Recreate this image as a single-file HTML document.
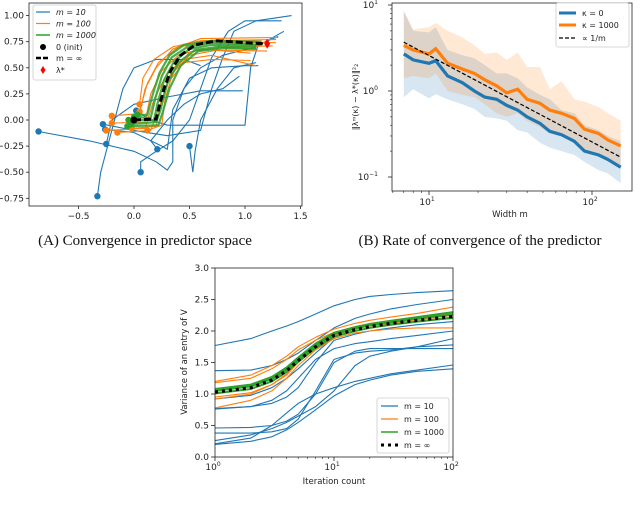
<!DOCTYPE html>
<html><head><meta charset="utf-8">
<style>
html,body{margin:0;padding:0;background:#fff;width:640px;height:505px;overflow:hidden}
svg{position:absolute;left:0;top:0}
text{font-family:"DejaVu Sans","Liberation Sans",sans-serif;fill:#222}
.cap{font-family:"Liberation Serif",serif;font-size:15px;fill:#111}
</style></head>
<body>
<svg id="fig" width="640" height="505" viewBox="0 0 640 505" xmlns="http://www.w3.org/2000/svg"></svg>
<script>
// ===== Chart A data =====
const aInfPath = [[0,0],[0.1,0.005],[0.2,0.01],[0.22,0.1],[0.27,0.3],[0.33,0.47],[0.42,0.62],[0.55,0.72],[0.75,0.76],[1.0,0.74],[1.2,0.73]];
const aGreenPaths = [
 [[-0.05,0.0],[0.18,0.0],[0.21,0.15],[0.27,0.38],[0.36,0.56],[0.5,0.68],[0.7,0.72],[1.1,0.71]],
 [[0.0,0.03],[0.15,0.02],[0.19,0.2],[0.25,0.42],[0.34,0.6],[0.48,0.7],[0.7,0.74],[1.15,0.72]],
 [[-0.03,-0.04],[0.2,-0.02],[0.24,0.1],[0.3,0.35],[0.4,0.55],[0.55,0.67],[0.75,0.7],[1.1,0.69]],
 [[0.03,0.05],[0.12,0.05],[0.17,0.25],[0.23,0.45],[0.32,0.62],[0.45,0.72],[0.7,0.76],[1.15,0.75]],
 [[-0.06,-0.06],[0.22,-0.05],[0.26,0.08],[0.32,0.3],[0.42,0.52],[0.58,0.66],[0.8,0.69],[1.1,0.68]]
];
const aOrangePaths = [
 [[-0.2,0.04],[0.05,0.06],[0.1,0.3],[0.2,0.5],[0.35,0.68],[0.6,0.78],[1.3,0.79]],
 [[-0.2,-0.03],[0.1,-0.02],[0.15,0.25],[0.25,0.47],[0.4,0.62],[0.6,0.68],[1.05,0.64]],
 [[-0.25,-0.1],[0.1,-0.08],[0.18,0.2],[0.3,0.45],[0.45,0.58],[0.7,0.62],[1.1,0.52]],
 [[-0.15,-0.12],[0.15,-0.1],[0.22,0.1],[0.3,0.35],[0.45,0.55],[0.7,0.58],[1.05,0.57]],
 [[0.05,0.15],[0.08,0.4],[0.18,0.58],[0.35,0.7],[0.6,0.76],[1.28,0.77]],
 [[-0.02,-0.08],[0.2,-0.06],[0.24,0.15],[0.32,0.42],[0.5,0.65],[0.8,0.7],[1.25,0.71]],
 [[0.12,-0.1],[0.25,-0.05],[0.28,0.2],[0.35,0.45],[0.5,0.62],[0.75,0.67],[1.2,0.66]],
 [[0.05,0.08],[0.12,0.35],[0.22,0.55],[0.4,0.7],[0.7,0.75],[1.28,0.74]]
];
const aBluePaths = [
 [[-0.86,-0.11],[-0.4,-0.2],[0.0,-0.3],[0.2,-0.4],[0.3,-0.48],[0.35,-0.4],[0.35,0.0],[0.45,0.3],[0.6,0.5],[0.8,0.62],[1.1,0.7],[1.35,0.85]],
 [[-0.33,-0.73],[-0.3,-0.5],[-0.2,-0.1],[-0.1,0.3],[0.0,0.5],[0.2,0.58],[0.45,0.58],[0.6,0.52]],
 [[-0.28,-0.04],[0.0,-0.1],[0.3,-0.15],[0.6,-0.1],[0.7,0.3],[0.8,0.6],[0.9,0.85],[1.1,0.95],[1.42,1.0]],
 [[-0.25,-0.23],[-0.2,0.0],[0.0,0.15],[0.3,0.22],[0.6,0.28],[0.98,0.28]],
 [[0.06,-0.5],[0.06,-0.4],[0.2,-0.3],[0.35,-0.2],[0.5,0.0],[0.6,0.3],[0.7,0.6],[0.85,0.85],[1.0,0.95],[1.33,0.95]],
 [[0.21,-0.28],[0.15,-0.2],[0.3,0.0],[0.45,0.15],[0.6,0.25],[0.8,0.3],[0.95,0.42]],
 [[0.5,-0.25],[0.53,-0.5],[0.55,-0.3],[0.6,0.0],[0.75,0.3],[0.9,0.5],[1.1,0.55]],
 [[0.02,0.09],[0.15,0.0],[0.3,-0.05],[0.6,-0.05],[1.0,-0.05],[1.05,0.5],[1.12,0.72],[1.3,0.8]],
 [[-0.26,-0.09],[0.0,-0.12],[0.25,-0.25],[0.3,-0.28],[0.35,0.1],[0.5,0.4],[0.7,0.5],[1.0,0.52],[1.12,0.52]]
];
const aXTicks = [-0.5,0.0,0.5,1.0,1.5];
const aYTicks = [-0.75,-0.5,-0.25,0.0,0.25,0.5,0.75,1.0];

// ===== Chart B data =====
const bWidths = [7,8,10,11,13,16,19,22,26,30,35,40,48,55,65,78,90,110,125,150];
const bKappa0 = [2.7,2.3,2.1,2.25,1.5,1.25,1.0,0.85,0.8,0.68,0.6,0.5,0.42,0.34,0.31,0.26,0.2,0.18,0.16,0.13];
const bKappa1000 = [3.4,3.0,2.7,3.1,2.1,1.8,1.6,1.35,1.15,0.95,1.05,0.8,0.72,0.6,0.55,0.48,0.36,0.32,0.27,0.23];
const bKappa0Lo = [0.85,1.05,0.82,0.92,0.8,0.7,0.62,0.5,0.48,0.45,0.35,0.33,0.25,0.22,0.2,0.18,0.15,0.12,0.11,0.085];
const bKappa0Hi = [8.5,5.0,4.8,5.5,3.0,2.6,2.4,2.0,1.6,1.6,1.4,1.1,0.9,0.8,0.6,0.55,0.4,0.35,0.3,0.26];
const bKappa1000Lo = [1.4,1.5,1.4,1.6,1.0,0.9,0.85,0.7,0.55,0.5,0.55,0.45,0.38,0.32,0.3,0.25,0.2,0.18,0.16,0.13];
const bKappa1000Hi = [8.5,5.2,5.5,6.2,5.0,4.2,3.4,2.7,2.8,2.3,2.8,1.9,1.9,1.05,1.3,0.8,0.75,0.65,0.55,0.45];
const bRefEnds = [7,150];
const bRefVals = [3.7,0.17];

// ===== Chart C data =====
const cIters = [1,2,3,4,5,7,10,15,20,30,50,100];
const cBlue = [
 [1.77,1.88,2.0,2.08,2.15,2.27,2.40,2.50,2.55,2.58,2.61,2.64],
 [1.37,1.38,1.45,1.55,1.65,1.85,2.05,2.2,2.27,2.35,2.42,2.50],
 [0.77,0.80,0.85,0.95,1.1,1.5,1.85,1.95,2.0,2.05,2.1,2.15],
 [0.76,0.8,0.9,1.05,1.25,1.55,1.72,1.8,1.83,1.88,1.93,2.0],
 [0.46,0.47,0.50,0.57,0.68,1.0,1.5,1.68,1.72,1.72,1.72,1.72],
 [0.38,0.38,0.40,0.45,0.60,1.05,1.55,1.65,1.68,1.70,1.75,1.78],
 [0.26,0.35,0.45,0.55,0.65,0.80,1.05,1.45,1.60,1.68,1.75,1.88],
 [0.20,0.25,0.32,0.43,0.55,0.75,0.97,1.15,1.22,1.30,1.36,1.40],
 [0.21,0.3,0.5,0.7,0.85,1.0,1.10,1.2,1.25,1.32,1.38,1.46],
 [0.92,0.98,1.1,1.25,1.40,1.65,1.90,2.00,2.05,2.1,2.15,2.20]
];
const cOrange = [
 [1.2,1.3,1.45,1.6,1.75,1.9,2.03,2.12,2.17,2.22,2.28,2.38],
 [0.78,0.9,1.05,1.25,1.45,1.7,1.88,1.97,2.0,2.03,2.05,2.05],
 [0.92,1.0,1.15,1.3,1.5,1.75,1.93,2.03,2.08,2.12,2.18,2.25],
 [1.18,1.25,1.4,1.55,1.7,1.85,1.98,2.07,2.12,2.17,2.22,2.30],
 [1.0,1.08,1.2,1.35,1.52,1.78,1.96,2.05,2.1,2.15,2.2,2.28],
 [0.95,1.02,1.15,1.32,1.5,1.72,1.9,2.0,2.05,2.1,2.16,2.22]
];
const cGreen = [
 [1.08,1.15,1.27,1.42,1.58,1.80,1.97,2.06,2.11,2.16,2.22,2.30],
 [1.05,1.12,1.24,1.39,1.55,1.77,1.95,2.04,2.09,2.14,2.2,2.26],
 [1.01,1.08,1.2,1.35,1.51,1.73,1.91,2.0,2.05,2.1,2.15,2.21]
];
const cInf = [1.03,1.1,1.22,1.37,1.53,1.75,1.93,2.02,2.07,2.12,2.17,2.23];
const cYTicks = [0.0,0.5,1.0,1.5,2.0,2.5,3.0];

const NS="http://www.w3.org/2000/svg";
const svg=document.getElementById('fig');
function mk(tag,attrs,parent){const e=document.createElementNS(NS,tag);for(const k in attrs)e.setAttribute(k,attrs[k]);(parent||svg).appendChild(e);return e;}
function txt(s,x,y,size,anchor,parent){const t=mk('text',{x:x,y:y,'font-size':size,'text-anchor':anchor||'middle'},parent);t.textContent=s;return t;}
const BLUE='#1f77b4',ORANGE='#ff7f0e',GREEN='#2ca02c';

// ---------- Chart A ----------
const gA=mk('g',{});


const ax=v=>134+v*111, ay=v=>120-v*104.4;
function pathD(pts,fx,fy){return pts.map((p,i)=>(i?'L':'M')+fx(p[0]).toFixed(1)+','+fy(p[1]).toFixed(1)).join(' ');}
aBluePaths.forEach(p=>{const e=mk('path',{d:pathD(p,ax,ay),fill:'none',stroke:BLUE,'stroke-width':1.1},gA);
 
 const c=mk('circle',{cx:ax(p[0][0]),cy:ay(p[0][1]),r:3.2,fill:BLUE},gA);
 });
aOrangePaths.forEach(p=>{const e=mk('path',{d:pathD(p,ax,ay),fill:'none',stroke:ORANGE,'stroke-width':1.1},gA);
 
 const c=mk('circle',{cx:ax(p[0][0]),cy:ay(p[0][1]),r:3.2,fill:ORANGE},gA);
 });
aGreenPaths.forEach(p=>{const e=mk('path',{d:pathD(p,ax,ay),fill:'none',stroke:GREEN,'stroke-width':2.2,opacity:0.85},gA);
 
 const c=mk('circle',{cx:ax(p[0][0]),cy:ay(p[0][1]),r:3.2,fill:GREEN},gA);
 });
const inf=mk('path',{d:pathD(aInfPath,ax,ay),fill:'none',stroke:'#000','stroke-width':3,'stroke-dasharray':'7,3'},gA);

const init=mk('circle',{cx:ax(0),cy:ay(0),r:3.5,fill:'#000'},gA);

const ls=aInfPath[aInfPath.length-1];
const star=mk('path',{d:`M${ax(ls[0])},${ay(ls[1])-5} L${ax(ls[0])+3},${ay(ls[1])} L${ax(ls[0])},${ay(ls[1])+5} L${ax(ls[0])-3},${ay(ls[1])} Z`,fill:'red'},gA);

mk('rect',{x:29,y:3,width:273,height:203,fill:'none',stroke:'#222','stroke-width':0.8},gA);
aXTicks.forEach(v=>{mk('line',{x1:ax(v),x2:ax(v),y1:206,y2:209,stroke:'#222','stroke-width':0.8},gA);txt(v.toFixed(1).replace('-','−'),ax(v),219,9,'middle',gA);});
aYTicks.forEach(v=>{mk('line',{x1:26,x2:29,y1:ay(v),y2:ay(v),stroke:'#222','stroke-width':0.8},gA);txt(v.toFixed(2).replace('-','−'),24,ay(v)+3,9,'end',gA);});
// legend A
const lgA=mk('g',{},gA);
mk('rect',{x:33,y:5,width:63,height:75,fill:'#fff',stroke:'#ccc','stroke-width':0.8,rx:2},lgA);
[['m = 10',BLUE,1.2],['m = 100',ORANGE,1.2],['m = 1000',GREEN,1.5]].forEach((r,i)=>{const y=12+i*11.5;mk('line',{x1:36,x2:50,y1:y,y2:y,stroke:r[1],'stroke-width':r[2]},lgA);const t=txt(r[0],56,y+3,8,'start',lgA);t.setAttribute('font-style','italic');});
mk('circle',{cx:43,cy:47,r:3,fill:'#000'},lgA);txt('0 (init)',56,50,8,'start',lgA);
mk('line',{x1:36,x2:50,y1:58,y2:58,stroke:'#000','stroke-width':2.5,'stroke-dasharray':'5,2'},lgA);txt('m = ∞',56,61,8,'start',lgA);
mk('path',{d:'M43,66 L45.5,70 L43,74 L40.5,70 Z',fill:'red'},lgA);txt('λ*',56,73,8,'start',lgA);
const capA=txt('(A) Convergence in predictor space',145,245,15,'middle');capA.setAttribute('class','cap');


// ---------- Chart B ----------
const gB=mk('g',{});
const bx=m=>429+(Math.log10(m)-1)*163, by=v=>91-Math.log10(v)*86;
function band(lo,hi,color,name){const d=bWidths.map((m,i)=>(i?'L':'M')+bx(m).toFixed(1)+','+by(hi[i]).toFixed(1)).join(' ')+' '+bWidths.slice().reverse().map((m,j)=>{const i=bWidths.length-1-j;return 'L'+bx(m).toFixed(1)+','+by(lo[i]).toFixed(1);}).join(' ')+' Z';
 const e=mk('path',{d:d,fill:color,opacity:0.18},gB);}
band(bKappa0Lo,bKappa0Hi,BLUE,'band-kappa-0');
band(bKappa1000Lo,bKappa1000Hi,ORANGE,'band-kappa-1000');
function lineB(vals,color,w,name,dash){const e=mk('path',{d:bWidths.map((m,i)=>(i?'L':'M')+bx(m).toFixed(1)+','+by(vals[i]).toFixed(1)).join(' '),fill:'none',stroke:color,'stroke-width':w},gB);if(dash)e.setAttribute('stroke-dasharray',dash);}
lineB(bKappa0,BLUE,3.2,'line-kappa-0');
lineB(bKappa1000,ORANGE,3.2,'line-kappa-1000');
const ref=mk('path',{d:`M${bx(bRefEnds[0])},${by(bRefVals[0])} L${bx(bRefEnds[1])},${by(bRefVals[1])}`,stroke:'#000','stroke-width':1.2,'stroke-dasharray':'4,2',fill:'none'},gB);

mk('rect',{x:392,y:3,width:240,height:188,fill:'none',stroke:'#222','stroke-width':0.8},gB);
[[10,'10','1'],[100,'10','2']].forEach(t=>{const x=bx(t[0]);mk('line',{x1:x,x2:x,y1:191,y2:195,stroke:'#222','stroke-width':0.8},gB);const e=txt(t[1],x-2,205,9,'middle',gB);const s=mk('tspan',{dy:-4,'font-size':6},e);s.textContent=t[2];});
for(let d=0;d<2;d++)for(let k=2;k<10;k++){const m=k*Math.pow(10,d);if(m<5.9||m>175)continue;mk('line',{x1:bx(m),x2:bx(m),y1:191,y2:193,stroke:'#222','stroke-width':0.6},gB);}
[[10,'10','1'],[1,'10','0'],[0.1,'10','−1']].forEach(t=>{const y=by(t[0]);mk('line',{x1:388,x2:392,y1:y,y2:y,stroke:'#222','stroke-width':0.8},gB);const e=txt(t[1],378,y+3,9,'end',gB);const s=mk('tspan',{dy:-4,'font-size':6},e);s.textContent=t[2];});
for(let d=-1;d<1;d++)for(let k=2;k<10;k++){const v=k*Math.pow(10,d);mk('line',{x1:390,x2:392,y1:by(v),y2:by(v),stroke:'#222','stroke-width':0.6},gB);}
const bxl=txt('Width m',510,217,8.5,'middle',gB);
const byl=txt('‖λᵐ(κ) − λ*(κ)‖²₂',0,0,8,'middle',gB);byl.setAttribute('transform','translate(358,97) rotate(-90)');

const lgB=mk('g',{},gB);
mk('rect',{x:556,y:3,width:73,height:44,fill:'#fff',stroke:'#ccc','stroke-width':0.8,rx:2},lgB);
[['κ = 0',BLUE,3],['κ = 1000',ORANGE,3]].forEach((r,i)=>{const y=13+i*12;mk('line',{x1:559,x2:576,y1:y,y2:y,stroke:r[1],'stroke-width':r[2]},lgB);txt(r[0],582,y+3,8,'start',lgB);});
mk('line',{x1:559,x2:576,y1:38,y2:38,stroke:'#000','stroke-width':1.2,'stroke-dasharray':'4,2'},lgB);txt('∝ 1/m',582,41,8,'start',lgB);
const capB=txt('(B) Rate of convergence of the predictor',480,245,15,'middle');capB.setAttribute('class','cap');


// ---------- Chart C ----------
const gC=mk('g',{});
const cx=i=>215+Math.log10(i)*119, cy=v=>457-v*63;
function lineC(vals,color,w,name){const e=mk('path',{d:cIters.map((t,i)=>(i?'L':'M')+cx(t).toFixed(1)+','+cy(vals[i]).toFixed(1)).join(' '),fill:'none',stroke:color,'stroke-width':w,'stroke-linejoin':'round'},gC);return e;}
cBlue.forEach(v=>lineC(v,BLUE,1.1,'curve-m10'));
cOrange.forEach(v=>lineC(v,ORANGE,1.1,'curve-m100'));
cGreen.forEach(v=>lineC(v,GREEN,2,'curve-m1000'));
const ci=lineC(cInf,'#000',3.2,'curve-m-infinity');ci.setAttribute('stroke-dasharray','3,4');
mk('rect',{x:215,y:268,width:238,height:189,fill:'none',stroke:'#222','stroke-width':0.8},gC);
cYTicks.forEach(v=>{mk('line',{x1:211,x2:215,y1:cy(v),y2:cy(v),stroke:'#222','stroke-width':0.8},gC);txt(v.toFixed(1),209,cy(v)+3,9,'end',gC);});
[[1,'0'],[10,'1'],[100,'2']].forEach(t=>{const x=cx(t[0]);mk('line',{x1:x,x2:x,y1:457,y2:461,stroke:'#222','stroke-width':0.8},gC);const e=txt('10',x-2,470,9,'middle',gC);const s=mk('tspan',{dy:-4,'font-size':6},e);s.textContent=t[1];});
for(let d=0;d<2;d++)for(let k=2;k<10;k++){const x=cx(k*Math.pow(10,d));mk('line',{x1:x,x2:x,y1:457,y2:459,stroke:'#222','stroke-width':0.6},gC);}
const cxl=txt('Iteration count',334,484,8.5,'middle',gC);
const cyl=txt('Variance of an entry of V',0,0,8.5,'middle',gC);cyl.setAttribute('transform','translate(187,362) rotate(-90)');

const lgC=mk('g',{},gC);
mk('rect',{x:377,y:398,width:72,height:55,fill:'#fff',stroke:'#ccc','stroke-width':0.8,rx:2},lgC);
[['m = 10',BLUE,1.2],['m = 100',ORANGE,1.2],['m = 1000',GREEN,1.5]].forEach((r,i)=>{const y=406+i*13;mk('line',{x1:381,x2:398,y1:y,y2:y,stroke:r[1],'stroke-width':r[2]},lgC);txt(r[0],404,y+3,8,'start',lgC);});
mk('line',{x1:381,x2:398,y1:445,y2:445,stroke:'#000','stroke-width':3,'stroke-dasharray':'3,4'},lgC);txt('m = ∞',404,448,8,'start',lgC);
</script>
</body></html>
